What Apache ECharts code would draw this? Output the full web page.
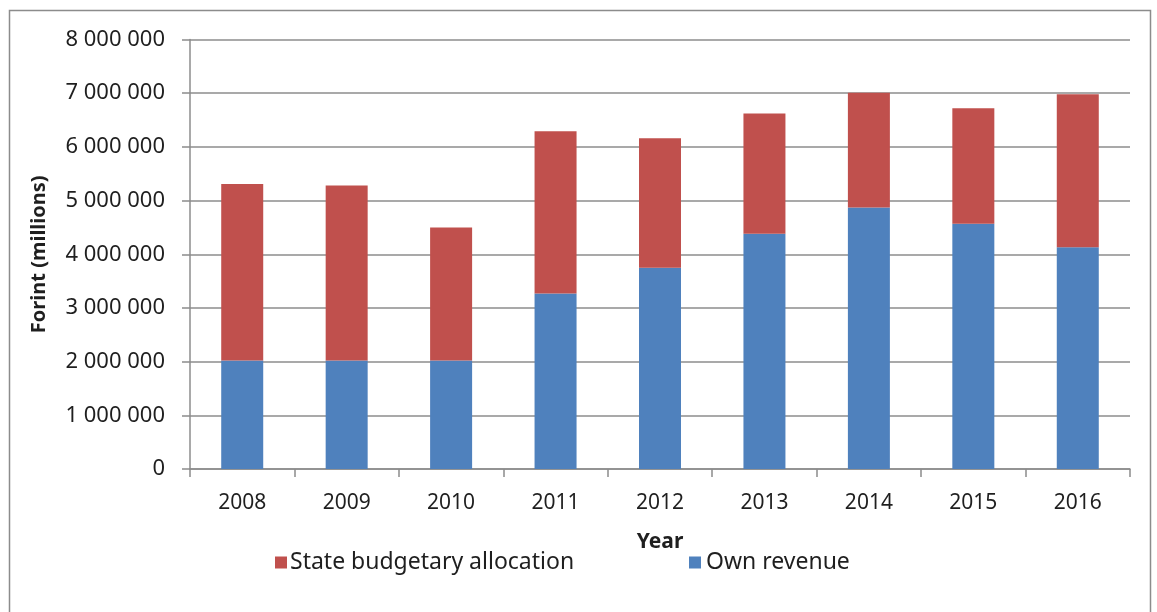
<!DOCTYPE html>
<html>
<head>
<meta charset="utf-8">
<script src="https://cdn.jsdelivr.net/npm/echarts@6/dist/echarts.min.js"></script>
<style>
	html, body {margin: 0; padding: 0; background: #fff;}
	#chart {width: 1157px; height: 612px;}
</style>
</head>
<body>
<div id="chart"></div>
<script>
// years on the x axis
var years = ['2008', '2009', '2010', '2011', '2012', '2013', '2014', '2015', '2016'];
// own revenue (bottom of the stack), forint millions
var ownRevenue = [2020000, 2020000, 2020000, 3270000, 3750000, 4380000, 4870000, 4570000, 4130000];
// state budgetary allocation (top of the stack)
var stateAlloc = [3290000, 3260000, 2480000, 3020000, 2410000, 2240000, 2140000, 2150000, 2850000];
var yTicks = [0, 1000000, 2000000, 3000000, 4000000, 5000000, 6000000, 7000000, 8000000];

var FONT = 'Noto Sans';
var TXT = '#1f1f1f';
var GRIDC = '#8c8c8c';

function spaced(v){
	// 8000000 -> "8 000 000"
	return String(v).replace(/\B(?=(\d{3})+(?!\d))/g, ' ');
}

var chart = echarts.init(document.getElementById('chart'));
var option = {
	animation: false,
	backgroundColor: '#fff',
	textStyle: {fontFamily: FONT, color: TXT},
	graphic: [{
		type: 'rect',
		shape: {x: 9.5, y: 10.5, width: 1141, height: 700},
		style: {fill: 'none', stroke: GRIDC, lineWidth: 1.5}
	}],
	legend: [{
		left: 270, top: 546,
		icon: 'rect',
		itemWidth: 12, itemHeight: 12, itemGap: 4,
		textStyle: {fontFamily: FONT, fontSize: 23, color: TXT, padding: [0, 0, 0, -2]},
		data: ['State budgetary allocation']
	}, {
		left: 684, top: 546,
		icon: 'rect',
		itemWidth: 12, itemHeight: 12,
		textStyle: {fontFamily: FONT, fontSize: 23, color: TXT},
		data: ['Own revenue']
	}],
	grid: {left: 190, right: 27, top: 39.5, bottom: 143},
	xAxis: {
		type: 'category',
		data: years,
		name: 'Year',
		nameLocation: 'middle',
		nameGap: 63,
		nameTextStyle: {fontFamily: FONT, fontSize: 21, fontWeight: 'bold', color: TXT},
		axisLine: {lineStyle: {color: GRIDC, width: 1.5}},
		axisTick: {show: true, length: 8, lineStyle: {color: GRIDC, width: 1.5}},
		axisLabel: {fontFamily: FONT, fontSize: 21, color: TXT, margin: 24}
	},
	yAxis: {
		type: 'value',
		min: yTicks[0],
		max: yTicks[yTicks.length - 1],
		interval: yTicks[1] - yTicks[0],
		name: 'Forint (millions)',
		nameLocation: 'middle',
		nameRotate: 90,
		nameGap: 141,
		nameTextStyle: {fontFamily: FONT, fontSize: 20, fontWeight: 'bold', color: TXT},
		axisLine: {show: true, lineStyle: {color: GRIDC, width: 1.5}},
		axisTick: {show: true, length: 8, lineStyle: {color: GRIDC, width: 1.5}},
		splitLine: {lineStyle: {color: GRIDC, width: 1.5}},
		axisLabel: {
			fontFamily: FONT, fontSize: 22, color: TXT, margin: 25,
			formatter: function(v){ return spaced(v); }
		}
	},
	series: [{
		type: 'bar',
		name: 'Own revenue',
		stack: 'sum',
		barWidth: 42,
		itemStyle: {color: '#4f81bd'},
		data: ownRevenue
	}, {
		type: 'bar',
		name: 'State budgetary allocation',
		stack: 'sum',
		barWidth: 42,
		itemStyle: {color: '#c0504d'},
		data: stateAlloc
	}]
};
chart.setOption(option);
</script>
</body>
</html>
